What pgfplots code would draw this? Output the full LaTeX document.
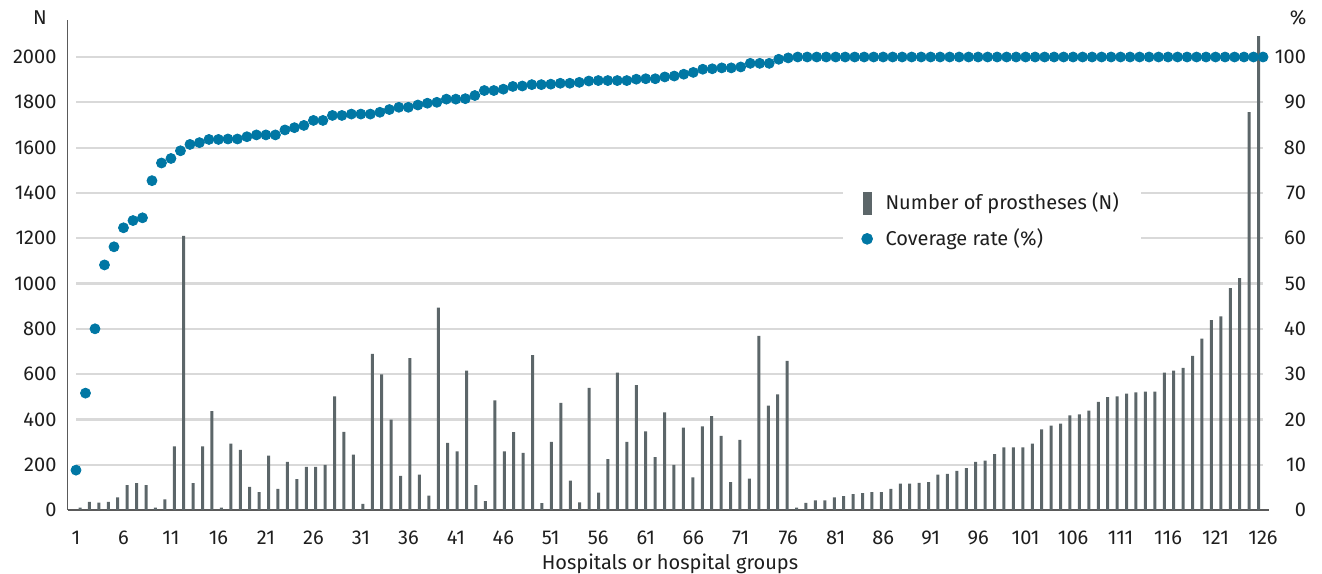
\documentclass[border=0pt]{standalone}
\usepackage{fontspec}
\setmainfont{Fira Sans}
\usepackage{pgfplots}
\usepackage{pgfplotstable}
\pgfplotsset{compat=1.18}
\definecolor{barcol}{RGB}{92,102,105}
\definecolor{dotcol}{RGB}{0,119,164}
\definecolor{gridcol}{RGB}{217,217,217}
\definecolor{axcol}{RGB}{90,90,90}
\definecolor{txtcol}{RGB}{30,30,30}

\pgfplotstableread{
i n
1 10
2 36
3 33
4 36
5 56
6 110
7 119
8 110
9 10
10 47
11 281
12 1210
13 119
14 281
15 436
16 10
17 293
18 265
19 102
20 79
21 240
22 93
23 212
24 136
25 190
26 190
27 199
28 502
29 345
30 244
31 27
32 689
33 599
34 399
35 151
36 670
37 156
38 64
39 893
40 296
41 259
42 615
43 110
44 39
45 484
46 259
47 344
48 252
49 684
50 30
51 301
52 473
53 130
54 34
55 539
56 77
57 225
58 606
59 301
60 551
61 347
62 234
63 431
64 199
65 364
66 144
67 369
68 415
69 327
70 123
71 310
72 139
73 769
74 461
75 511
76 658
77 10
78 31
79 43
80 43
81 56
82 61
83 70
84 74
85 79
86 79
87 93
88 116
89 116
90 120
91 123
92 156
93 160
94 173
95 185
96 212
97 218
98 247
99 277
100 277
101 277
102 293
103 356
104 373
105 381
106 418
107 422
108 439
109 477
110 498
111 502
112 514
113 519
114 523
115 523
116 606
117 615
118 627
119 681
120 757
121 838
122 855
123 980
124 1024
125 1757
126 2092
}\bars

\pgfplotstableread{
i p
1 8.8
2 25.8
3 40.0
4 54.1
5 58.1
6 62.3
7 63.9
8 64.5
9 72.7
10 76.6
11 77.6
12 79.3
13 80.7
14 81.1
15 81.8
16 81.8
17 81.9
18 81.9
19 82.4
20 82.8
21 82.8
22 82.8
23 83.9
24 84.4
25 84.9
26 86.0
27 86.0
28 87.1
29 87.1
30 87.4
31 87.4
32 87.4
33 87.8
34 88.4
35 88.9
36 88.9
37 89.4
38 89.8
39 90.0
40 90.7
41 90.7
42 90.8
43 91.5
44 92.6
45 92.6
46 92.9
47 93.5
48 93.6
49 93.9
50 93.9
51 94.0
52 94.2
53 94.2
54 94.4
55 94.7
56 94.8
57 94.8
58 94.8
59 94.8
60 95.1
61 95.2
62 95.2
63 95.6
64 95.8
65 96.2
66 96.6
67 97.3
68 97.4
69 97.6
70 97.6
71 97.8
72 98.6
73 98.6
74 98.6
75 99.5
76 99.8
77 100
78 100
79 100
80 100
81 100
82 100
83 100
84 100
85 100
86 100
87 100
88 100
89 100
90 100
91 100
92 100
93 100
94 100
95 100
96 100
97 100
98 100
99 100
100 100
101 100
102 100
103 100
104 100
105 100
106 100
107 100
108 100
109 100
110 100
111 100
112 100
113 100
114 100
115 100
116 100
117 100
118 100
119 100
120 100
121 100
122 100
123 100
124 100
125 100
126 100
}\cover

\begin{document}
\begin{tikzpicture}[font=\fontsize{10}{12}\selectfont, text=txtcol]
\pgfplotsset{
  base/.style={scale only axis, width=600.75pt, height=245pt, at={(0pt,0pt)}, anchor=south west,
    /pgf/number format/assume math mode=true, /pgf/number format/1000 sep={},
    ticklabel style={font=\fontsize{10}{12}\selectfont, text=txtcol},
    major tick length=0pt, scaled y ticks=false, clip=false},
}
\begin{axis}[base,
  xmin=-0.326, xmax=127.11, ymin=0, ymax=2163.4,
  axis x line*=bottom, axis y line*=left,
  axis line style={axcol, line width=0.8pt, -},
  xtick=\empty,
  ytick={0,200,...,2000},
  yticklabel style={xshift=-2pt},
]
\pgfplotsinvokeforeach{200,400,...,2000}{
  \draw[gridcol, line width=1.1pt] (axis cs:0.576,#1) -- (axis cs:126.48,#1);
}
\addplot[ybar, bar width=1.5pt, bar shift=0pt, fill=barcol, draw=none] table[x=i,y=n] {\bars};
\end{axis}

\begin{axis}[base,
  xmin=0.105, xmax=126.63, ymin=0, ymax=108.17,
  axis x line*=bottom, axis y line*=right,
  axis line style={draw=none},
  xtick={1,6,...,126},
  ytick={0,10,...,100},
  yticklabel style={anchor=east, xshift=22pt},
  xticklabel style={yshift=-7pt},
  legend style={draw=none, fill=white, at={(0.6454,0.59)}, anchor=west,
    inner xsep=9pt, inner ysep=12pt, row sep=4pt,
    font=\fontsize{10}{12}\selectfont},
  legend cell align=left,
]
\addlegendimage{legend image code/.code={\fill[barcol] (0pt,-5.5pt) rectangle (4pt,5.5pt); \path (9pt,0pt);}}
\addlegendentry{Number of prostheses (N)}
\addplot[only marks, mark=*, mark size=2.5pt, mark options={fill=dotcol, draw=dotcol},
  legend image code/.code={\fill[dotcol] (2pt,0pt) circle (2.7pt); \path (9pt,0pt);}] table[x=i,y=p] {\cover};
\addlegendentry{Coverage rate (\%)}
\end{axis}

\node[anchor=base] at (-13.75pt,242.5pt) {N};
\node[anchor=base] at (615.25pt,242.5pt) {\%};
\node[anchor=base] at (301.25pt,-30pt) {Hospitals or hospital groups};
\pgfresetboundingbox
\path (-33.75pt,-31.5pt) rectangle (627.25pt,255pt);
\end{tikzpicture}
\end{document}
